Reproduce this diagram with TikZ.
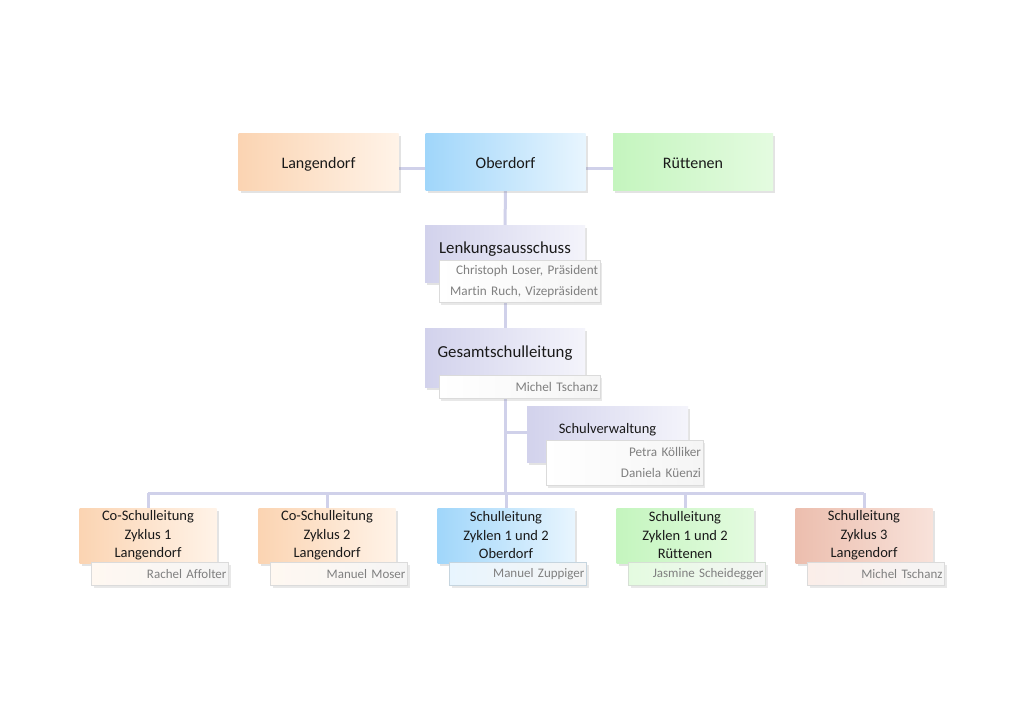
\documentclass[tikz,border=0pt]{standalone}
\usepackage{fontspec}
\setmainfont{Carlito}[Ligatures=NoCommon]
\usetikzlibrary{shadows,backgrounds}
\definecolor{connc}{RGB}{208,209,234}
\definecolor{peach}{RGB}{251,212,178}
\definecolor{peachL}{RGB}{255,243,232}
\definecolor{skyb}{RGB}{160,214,250}
\definecolor{skybL}{RGB}{232,245,254}
\definecolor{mint}{RGB}{196,245,190}
\definecolor{mintL}{RGB}{228,251,224}
\definecolor{lav}{RGB}{210,210,236}
\definecolor{lavL}{RGB}{244,244,251}
\definecolor{salm}{RGB}{236,190,174}
\definecolor{salmL}{RGB}{248,226,218}
\definecolor{subtxt}{RGB}{128,128,128}
\begin{document}
\begin{tikzpicture}[x=1pt,y=-1pt,
  conn/.style={draw=connc,line width=3pt},
  mainbox/.style={inner sep=0pt,text=black!90,
    drop shadow={shadow xshift=2pt,shadow yshift=-2.5pt,opacity=0.22}},
  topbox/.style={mainbox,minimum width=160pt,minimum height=57pt,text height=14pt,text depth=0pt,font=\fontsize{16}{19}\selectfont},
  lavbox/.style={mainbox,left color=lav,right color=lavL,minimum width=160pt},
  botbox/.style={mainbox,minimum width=137pt,minimum height=55pt,align=center,font=\fontsize{14.5}{18.5}\selectfont},
  subbox/.style={draw=black!14,line width=0.6pt,left color=white,right color=black!4,inner xsep=2pt,inner ysep=0pt,
    text=subtxt,align=right,font=\fontsize{13.2}{21}\selectfont,
    drop shadow={shadow xshift=2pt,shadow yshift=-2.5pt,opacity=0.18}},
  bsub/.style={subbox,text width=133pt,minimum height=23pt,font=\fontsize{13}{21}\selectfont},
  ttl/.style={font=\fontsize{16.8}{19}\selectfont,text=black!90,inner sep=0pt}
]
\useasboundingbox (0,0) rectangle (1024,724);

% top row
\node[topbox,left color=peach,right color=peachL] (lang) at (318.5,161.5) {Langendorf};
\node[topbox,left color=skyb,right color=skybL] (ober) at (505.5,161.5) {Oberdorf};
\node[topbox,left color=mint,right color=mintL] (rue) at (693,161.5) {Rüttenen};

% Lenkungsausschuss
\node[lavbox,minimum height=57pt] (lenk) at (505,253.5) {};
\node[ttl] (lenkT) at ([yshift=4.5pt]lenk.center) {Lenkungsausschuss};
\node[subbox,text width=157pt,minimum height=42pt] (lenkS) at (519.5,281) {Christoph Loser, Präsident\\Martin Ruch, Vizepräsident};

% Gesamtschulleitung
\node[lavbox,minimum height=59pt] (gsl) at (505,357.5) {};
\node[ttl] (gslT) at ([yshift=4.5pt]gsl.center) {Gesamtschulleitung};
\node[subbox,text width=157pt,minimum height=23pt] (gslS) at (519.5,386.5) {Michel Tschanz};

% Schulverwaltung
\node[lavbox,minimum width=161pt,minimum height=56pt] (sv) at (607.5,434) {};
\node[ttl,font=\fontsize{14.5}{17}\selectfont] (svT) at ([yshift=4pt]sv.center) {Schulverwaltung};
\node[subbox,text width=153pt,minimum height=45pt] (svS) at (624.5,462.5) {Petra Kölliker\\Daniela Küenzi};

% bottom row
\node[botbox,left color=peach,right color=peachL] (b1) at (148,535.5) {Co-Schulleitung\\Zyklus 1\\Langendorf};
\node[bsub,left color=peachL!60] (b1S) at (160,574) {Rachel Affolter};
\node[botbox,left color=peach,right color=peachL] (b2) at (327,535.5) {Co-Schulleitung\\Zyklus 2\\Langendorf};
\node[bsub,left color=peachL!60] (b2S) at (339,574) {Manuel Moser};
\node[botbox,left color=skyb,right color=skybL] (b3) at (506,535.5) {Schulleitung\\Zyklen 1 und 2\\Oberdorf};
\node[bsub,draw=skyb!70!black!40,left color=skybL] (b3S) at (518,574) {Manuel Zuppiger};
\node[botbox,left color=mint,right color=mintL] (b4) at (685,535.5) {Schulleitung\\Zyklen 1 und 2\\Rüttenen};
\node[bsub,draw=mint!60!black!30,left color=mintL] (b4S) at (697,574) {Jasmine Scheidegger};
\node[botbox,left color=salm,right color=salmL] (b5) at (864,535.5) {Schulleitung\\Zyklus 3\\Langendorf};
\node[bsub,left color=salmL!60] (b5S) at (876,574) {Michel Tschanz};

\coordinate (bar) at (505,493);

\begin{scope}[on background layer]
  \fill[white] (0,0) rectangle (1024,724);
  \draw[conn] ([yshift=-6.5pt]lang.center) -- ([yshift=-6.5pt]ober.center);
  \draw[conn] ([yshift=-6.5pt]ober.center) -- ([yshift=-6.5pt]rue.center);
  \draw[conn] (ober.center) -- (lenk.center);
  \draw[conn] (lenk.center) -- (gsl.center);
  \draw[conn] (gsl.center) -- (bar);
  \draw[conn] ([yshift=2pt]sv.center) -- ([yshift=2pt]sv.center -| gsl.center);
  \draw[conn] (b1 |- bar) -- (b5 |- bar);
  \foreach \b in {b1,b2,b3,b4,b5}{
    \draw[conn] (\b |- bar) -- (\b.center);
  }
\end{scope}
\end{tikzpicture}
\end{document}
